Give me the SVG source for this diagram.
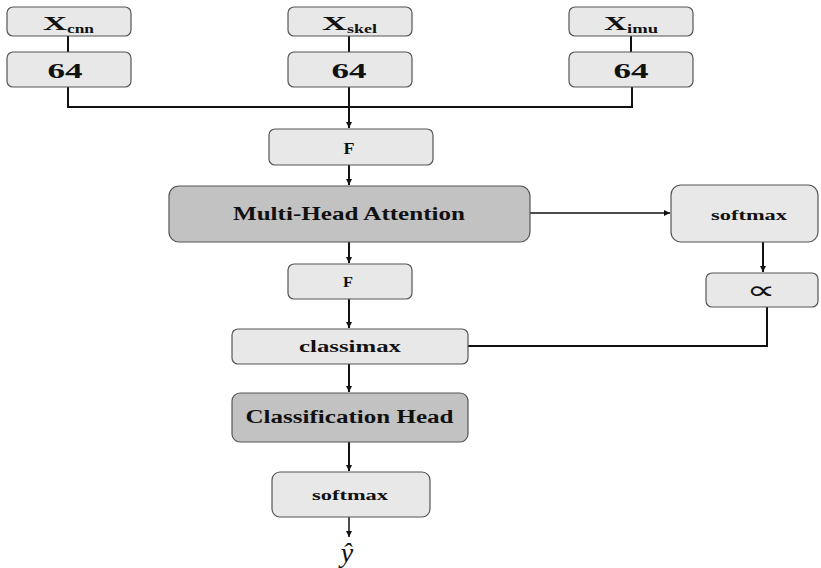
<svg xmlns="http://www.w3.org/2000/svg" width="821" height="568" viewBox="0 0 821 568">
<style>
.lt{fill:#e8e8e8;stroke:#555;stroke-width:1.2}
.dk{fill:#c2c2c2;stroke:#555;stroke-width:1.2}
.t{font-family:"Liberation Serif","Times New Roman",serif;font-weight:bold;fill:#111;text-anchor:middle}
.c{fill:none;stroke:#111;stroke-width:2}
</style>
<defs>
<marker id="ah" markerWidth="8" markerHeight="8" refX="6" refY="4" orient="auto" markerUnits="userSpaceOnUse">
<path d="M0,1 L6,4 L0,7 z" fill="#111"/>
</marker>
</defs>
<rect width="821" height="568" fill="#fff"/>
<g id="connectors">
<path class="c" d="M68,36 V52"/>
<path class="c" d="M349,36 V52"/>
<path class="c" d="M631,36 V52"/>
<path class="c" d="M68,87 V107 H632 V87"/>
<path class="c" d="M349,87 V128" marker-end="url(#ah)"/>
<path class="c" d="M349,165 V185" marker-end="url(#ah)"/>
<path class="c" style="stroke-width:1.5" d="M530,213 H670" marker-end="url(#ah)"/>
<path class="c" d="M763,242 V272" marker-end="url(#ah)"/>
<path class="c" d="M767,307 V346 H468"/>
<path class="c" d="M349,242 V263" marker-end="url(#ah)"/>
<path class="c" d="M349,299 V328" marker-end="url(#ah)"/>
<path class="c" d="M349,364 V392" marker-end="url(#ah)"/>
<path class="c" d="M349,442 V471" marker-end="url(#ah)"/>
<path class="c" style="stroke-width:1.5" d="M349,517 V537" marker-end="url(#ah)"/>
</g>
<g id="xcnn"><rect class="lt" x="7" y="7" width="124" height="29" rx="6"/>
<text class="t" x="55" y="30" font-size="19" textLength="24" lengthAdjust="spacingAndGlyphs">X</text>
<text class="t" x="80.5" y="33" font-size="13" textLength="27" lengthAdjust="spacingAndGlyphs">cnn</text></g>
<g id="xskel"><rect class="lt" x="288" y="7" width="124" height="29" rx="6"/>
<text class="t" x="334.5" y="30" font-size="19" textLength="25" lengthAdjust="spacingAndGlyphs">X</text>
<text class="t" x="362" y="33" font-size="13" textLength="30" lengthAdjust="spacingAndGlyphs">skel</text></g>
<g id="ximu"><rect class="lt" x="569" y="7" width="124" height="29" rx="6"/>
<text class="t" x="615.5" y="30" font-size="19" textLength="23" lengthAdjust="spacingAndGlyphs">X</text>
<text class="t" x="642.5" y="33" font-size="13" textLength="31" lengthAdjust="spacingAndGlyphs">imu</text></g>
<g id="n64a"><rect class="lt" x="7" y="52" width="124" height="35" rx="6"/>
<text class="t" x="65" y="78" font-size="22" textLength="35" lengthAdjust="spacingAndGlyphs">64</text></g>
<g id="n64b"><rect class="lt" x="288" y="52" width="124" height="35" rx="6"/>
<text class="t" x="349" y="78" font-size="22" textLength="35" lengthAdjust="spacingAndGlyphs">64</text></g>
<g id="n64c"><rect class="lt" x="569" y="52" width="124" height="35" rx="6"/>
<text class="t" x="631" y="78" font-size="22" textLength="35" lengthAdjust="spacingAndGlyphs">64</text></g>
<g id="f1"><rect class="lt" x="269" y="129" width="164" height="36" rx="6"/>
<text class="t" x="349" y="154" font-size="16" textLength="11" lengthAdjust="spacingAndGlyphs">F</text></g>
<g id="mha"><rect class="dk" x="169" y="186" width="361" height="56" rx="10"/>
<text class="t" x="349" y="220" font-size="19" textLength="232" lengthAdjust="spacingAndGlyphs">Multi-Head Attention</text></g>
<g id="softmax1"><rect class="lt" x="671" y="185" width="147" height="57" rx="10"/>
<text class="t" x="749" y="220" font-size="15" textLength="76" lengthAdjust="spacingAndGlyphs">softmax</text></g>
<g id="prop"><rect class="lt" x="706" y="273" width="112" height="34" rx="6"/>
<text x="761" y="299" font-size="26" font-family="'DejaVu Sans',sans-serif" text-anchor="middle" fill="#111" textLength="29" lengthAdjust="spacingAndGlyphs">∝</text></g>
<g id="f2"><rect class="lt" x="288" y="264" width="124" height="35" rx="6"/>
<text class="t" x="348" y="287" font-size="14" textLength="10" lengthAdjust="spacingAndGlyphs">F</text></g>
<g id="classimax"><rect class="lt" x="232" y="329" width="236" height="35" rx="6"/>
<text class="t" x="350" y="352" font-size="17" textLength="102" lengthAdjust="spacingAndGlyphs">classimax</text></g>
<g id="head"><rect class="dk" x="232" y="393" width="236" height="49" rx="8"/>
<text class="t" x="349.5" y="423" font-size="18" textLength="208" lengthAdjust="spacingAndGlyphs">Classification Head</text></g>
<g id="softmax2"><rect class="lt" x="272" y="472" width="158" height="45" rx="8"/>
<text class="t" x="350" y="500" font-size="15" textLength="76" lengthAdjust="spacingAndGlyphs">softmax</text></g>
<g id="yhat"><text x="347" y="562" font-size="28" font-style="italic" font-family="'Liberation Serif','Times New Roman',serif" text-anchor="middle" fill="#111">ŷ</text></g>
</svg>
